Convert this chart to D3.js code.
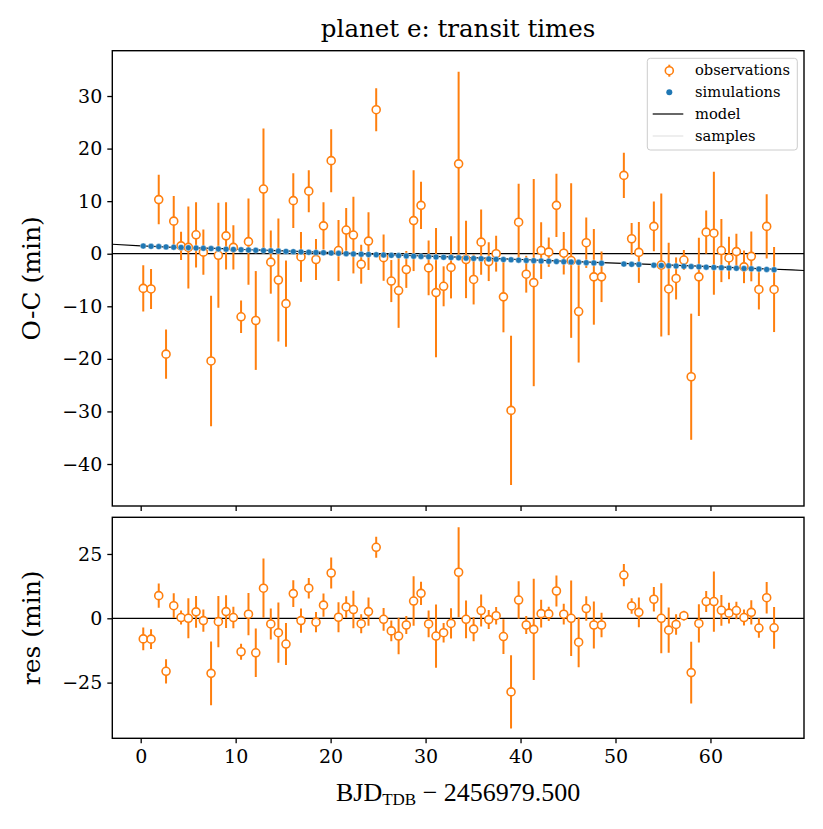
<!DOCTYPE html>
<html>
<head>
<meta charset="utf-8">
<script src="https://cdn.jsdelivr.net/npm/d3@7"></script>
<style>
  body { margin: 0; background: #fff; }
  text { font-family: "DejaVu Serif", serif; }
</style>
</head>
<body>
<div id="chart-area"></div>
<script>
// transit epochs (days since BJD 2456979.5)
let epochs = [0.27, 1.09, 1.90, 2.67, 3.48, 4.25, 5.02, 5.83, 6.60, 7.41, 8.18, 8.99, 9.76, 10.57,
  11.35, 12.12, 12.93, 13.70, 14.50, 15.30, 16.07, 16.88, 17.70, 18.46, 19.25, 20.06, 20.83, 21.64,
  22.40, 23.22, 23.99, 24.80, 25.58, 26.39, 27.16, 27.97, 28.74, 29.52, 30.32, 31.10, 31.90, 32.68,
  33.48, 34.26, 35.06, 35.85, 36.65, 37.43, 38.20, 39.00, 39.80, 40.60, 41.39, 42.17, 42.97, 43.78,
  44.55, 45.33, 46.12, 46.92, 47.72, 48.53, 50.88, 51.70, 52.46, 54.04, 54.82, 55.60, 56.38, 57.20,
  57.97, 58.78, 59.55, 60.36, 61.15, 61.95, 62.73, 63.53, 64.30, 65.10, 65.92, 66.70];

// observed O-C (min)
let observed = [-6.6, -6.7, 10.3, -19.1, 6.2, 1.5, 1.2, 3.6, 0.3, -20.4, -0.3, 3.4, 1.2, -12.0,
  2.3, -12.7, 12.3, -1.6, -5.0, -9.5, 10.1, -0.6, 11.9, -1.1, 5.3, 17.7, 0.6, 4.5,
  3.55, -2.0, 2.4, 27.4, -0.75, -5.2, -7.0, -3.0, 6.3, 9.2, -2.7, -7.4, -6.2, -2.6,
  17.1, -1.1, -4.9, 2.2, -1.5, 0.0, -8.2, -29.8, 6.0, -3.9, -5.5, 0.6, 0.3, 9.2,
  0.1, -1.3, -11.0, 2.1, -4.4, -4.4, 14.9, 2.85, 0.25, 5.2, -2.15, -6.7, -4.7, -1.2,
  -23.4, -4.4, 4.1, 3.9, 0.6, -0.8, 0.4, -2.5, -0.5, -6.8, 5.2, -6.8];

// 1-sigma uncertainties (min)
let errors = [4.4, 3.8, 4.7, 4.7, 4.8, 2.7, 7.8, 6.2, 4.3, 12.4, 10.0, 6.4, 4.2, 3.1,
  8.2, 9.4, 11.5, 6.0, 11.7, 8.2, 5.2, 4.75, 4.0, 3.9, 4.5, 6.0, 5.8, 4.2,
  7.3, 3.7, 5.5, 4.1, 4.4, 4.0, 7.1, 3.5, 9.6, 4.5, 5.2, 12.3, 3.8, 5.9,
  17.5, 7.35, 4.75, 6.2, 3.7, 3.4, 6.75, 14.2, 7.3, 3.5, 19.7, 5.4, 2.8, 6.0,
  4.05, 14.7, 9.7, 4.8, 9.1, 4.8, 4.3, 3.0, 5.8, 4.75, 13.6, 8.8, 4.0, 1.9,
  12.0, 7.45, 4.1, 11.7, 6.0, 4.05, 3.4, 3.1, 4.75, 3.8, 6.1, 8.1];

// simulated O-C at each epoch (min)
let simulated = [1.46, 1.40, 1.35, 1.30, 1.24, 1.19, 1.14, 1.08, 1.03, 0.98, 0.92, 0.87, 0.82, 0.76,
  0.71, 0.66, 0.60, 0.55, 0.50, 0.44, 0.39, 0.34, 0.28, 0.23, 0.18, 0.12, 0.07, 0.01,
  -0.04, -0.09, -0.15, -0.20, -0.25, -0.31, -0.36, -0.42, -0.47, -0.52, -0.57, -0.63, -0.68, -0.73,
  -0.79, -0.84, -0.90, -0.95, -1.00, -1.06, -1.11, -1.16, -1.22, -1.27, -1.32, -1.38, -1.43, -1.49,
  -1.54, -1.59, -1.64, -1.70, -1.75, -1.81, -1.97, -2.02, -2.07, -2.18, -2.23, -2.29, -2.34, -2.39,
  -2.45, -2.50, -2.55, -2.61, -2.66, -2.72, -2.77, -2.82, -2.88, -2.93, -2.99, -3.04];

// residuals (min)
let residuals = [-8.0, -8.1, 8.8, -20.6, 4.9, 0.3, 0.0, 2.5, -0.9, -21.4, -1.3, 2.6, 0.3, -13.0,
  1.6, -13.4, 11.7, -2.2, -5.6, -10.0, 9.6, -0.9, 11.7, -1.5, 5.1, 17.6, 0.4, 4.4,
  3.4, -2.1, 2.6, 27.6, -0.4, -4.9, -6.9, -2.6, 6.7, 9.7, -2.2, -6.9, -5.6, -2.0,
  17.9, -0.4, -4.2, 3.0, -0.5, 1.0, -7.1, -28.6, 7.1, -2.6, -4.3, 1.8, 1.7, 10.6,
  1.6, 0.0, -9.3, 3.8, -2.6, -2.6, 16.8, 4.8, 2.3, 7.4, 0.0, -4.6, -2.4, 1.0,
  -21.1, -2.0, 6.5, 6.5, 3.1, 2.0, 3.0, 0.3, 2.3, -3.8, 8.0, -3.7];

// best-fit model curve
let modelTimes = [-3, 0, 10, 20, 30, 40, 50, 60, 70];
let modelOC = [1.8, 1.5, 0.85, 0.2, -0.45, -1.1, -1.8, -2.45, -3.2];

let xTicks = [0, 10, 20, 30, 40, 50, 60];
let topTicks = [-40, -30, -20, -10, 0, 10, 20, 30];
let bottomTicks = [-25, 0, 25];
let legendLabels = ["observations", "simulations", "model", "samples"];

let orange = "#ff7f0e", blue = "#1f77b4";

let width = 823, height = 829;
let left = 112.3, right = 804;
let top1 = 50.7, bottom1 = 506;
let top2 = 517.3, bottom2 = 738.3;

let svg = d3.select("#chart-area")
  .append("svg")
  .attr("width", width)
  .attr("height", height);

// Scales
let x = d3.scaleLinear().domain([-2.99, 69.85]).range([left, right]);
let yTop = d3.scaleLinear().domain([-47.99, 38.62]).range([bottom1, top1]);
let yBot = d3.scaleLinear().domain([-46.64, 39.25]).range([bottom2, top2]);

let rows = epochs.map((t, i) => ({
  t: t, oc: observed[i], err: errors[i], sim: simulated[i], res: residuals[i]
}));

function panel(y, yTicks, yTop0, yBottom0, withLabels) {
  let g = svg.append("g");

  g.append("clipPath").attr("id", "clip" + Math.round(yTop0))
    .append("rect")
    .attr("x", left).attr("y", yTop0)
    .attr("width", right - left).attr("height", yBottom0 - yTop0);

  let plot = g.append("g").attr("clip-path", "url(#clip" + Math.round(yTop0) + ")");

  // zero line
  plot.append("line")
    .attr("x1", left).attr("x2", right)
    .attr("y1", y(0)).attr("y2", y(0))
    .attr("stroke", "#000").attr("stroke-width", 1.3);

  // axes
  let yAxis = d3.axisLeft(y).tickValues(yTicks).tickSize(5).tickPadding(5);
  let ya = g.append("g").attr("transform", "translate(" + left + ",0)").call(yAxis);
  ya.select(".domain").remove();
  ya.selectAll("line").attr("stroke-width", 1.3);
  ya.selectAll("text").style("font-size", "19px").style("font-family", "DejaVu Serif");

  let xAxis = d3.axisBottom(x).tickValues(xTicks).tickSize(5).tickPadding(6);
  let xa = g.append("g").attr("transform", "translate(0," + yBottom0 + ")").call(xAxis);
  xa.select(".domain").remove();
  xa.selectAll("line").attr("stroke-width", 1.3);
  xa.selectAll("text")
    .style("font-size", "19px").style("font-family", "DejaVu Serif")
    .style("display", withLabels ? null : "none");

  g.append("rect")
    .attr("x", left).attr("y", yTop0)
    .attr("width", right - left).attr("height", yBottom0 - yTop0)
    .attr("fill", "none").attr("stroke", "#000").attr("stroke-width", 1.4);

  return plot;
}

function drawObs(plot, y, key) {
  plot.selectAll(".bar-" + key)
    .data(rows)
    .enter()
    .append("line")
    .attr("x1", d => x(d.t)).attr("x2", d => x(d.t))
    .attr("y1", d => y(d[key] - d.err)).attr("y2", d => y(d[key] + d.err))
    .attr("stroke", orange).attr("stroke-width", 2);

  plot.selectAll(".pt-" + key)
    .data(rows)
    .enter()
    .append("circle")
    .attr("cx", d => x(d.t)).attr("cy", d => y(d[key]))
    .attr("r", 4)
    .attr("fill", "#fff").attr("stroke", orange).attr("stroke-width", 1.6);
}

// Top panel
let p1 = panel(yTop, topTicks, top1, bottom1, false);

p1.append("path")
  .datum(modelTimes.map((t, i) => [t, modelOC[i]]))
  .attr("d", d3.line().x(d => x(d[0])).y(d => yTop(d[1])).curve(d3.curveMonotoneX))
  .attr("fill", "none").attr("stroke", "#000").attr("stroke-width", 1.2);

drawObs(p1, yTop, "oc");

p1.selectAll(".sim")
  .data(rows)
  .enter()
  .append("circle")
  .attr("cx", d => x(d.t)).attr("cy", d => yTop(d.sim))
  .attr("r", 3)
  .attr("fill", blue).attr("stroke", "#fff").attr("stroke-width", 0.4);

// Bottom panel
let p2 = panel(yBot, bottomTicks, top2, bottom2, true);
drawObs(p2, yBot, "res");

// Title and labels
svg.append("text")
  .attr("x", (left + right) / 2).attr("y", 37)
  .attr("text-anchor", "middle")
  .style("font-size", "24.5px")
  .text("planet e: transit times");

svg.append("text")
  .attr("transform", "translate(40," + (top1 + bottom1) / 2 + ") rotate(-90)")
  .attr("text-anchor", "middle")
  .style("font-size", "25px")
  .text("O-C (min)");

svg.append("text")
  .attr("transform", "translate(40," + (top2 + bottom2) / 2 + ") rotate(-90)")
  .attr("text-anchor", "middle")
  .style("font-size", "25px")
  .text("res (min)");

let xl = svg.append("text")
  .attr("x", (left + right) / 2).attr("y", 801)
  .attr("text-anchor", "middle")
  .style("font-family", "Liberation Serif")
  .style("font-size", "26px");
xl.append("tspan").text("BJD");
xl.append("tspan").attr("dy", 4).style("font-size", "17px").text("TDB");
xl.append("tspan").attr("dy", -4).text(" \u2212 2456979.500");

// Legend
let lg = svg.append("g");
lg.append("rect")
  .attr("x", 647.3).attr("y", 58.3)
  .attr("width", 150).attr("height", 91.7)
  .attr("rx", 3)
  .attr("fill", "#fff").attr("fill-opacity", 0.8)
  .attr("stroke", "#ccc").attr("stroke-width", 1);

let rowY = [70.7, 92.3, 114, 136];
legendLabels.forEach((name, i) => {
  let yy = rowY[i];
  if (name == "observations") {
    lg.append("line").attr("x1", 669.3).attr("x2", 669.3)
      .attr("y1", yy - 6).attr("y2", yy + 6)
      .attr("stroke", orange).attr("stroke-width", 2);
    lg.append("circle").attr("cx", 669.3).attr("cy", yy).attr("r", 4)
      .attr("fill", "#fff").attr("stroke", orange).attr("stroke-width", 1.6);
  } else if (name == "simulations") {
    lg.append("circle").attr("cx", 669.3).attr("cy", yy).attr("r", 3)
      .attr("fill", blue);
  } else {
    lg.append("line").attr("x1", 652.7).attr("x2", 683.3)
      .attr("y1", yy).attr("y2", yy)
      .attr("stroke", name == "model" ? "#000" : "#ddd")
      .attr("stroke-width", name == "model" ? 1.2 : 1);
  }
  lg.append("text")
    .attr("x", 695).attr("y", yy + 4.5)
    .style("font-size", "14.7px")
    .text(name);
});
</script>
</body>
</html>
